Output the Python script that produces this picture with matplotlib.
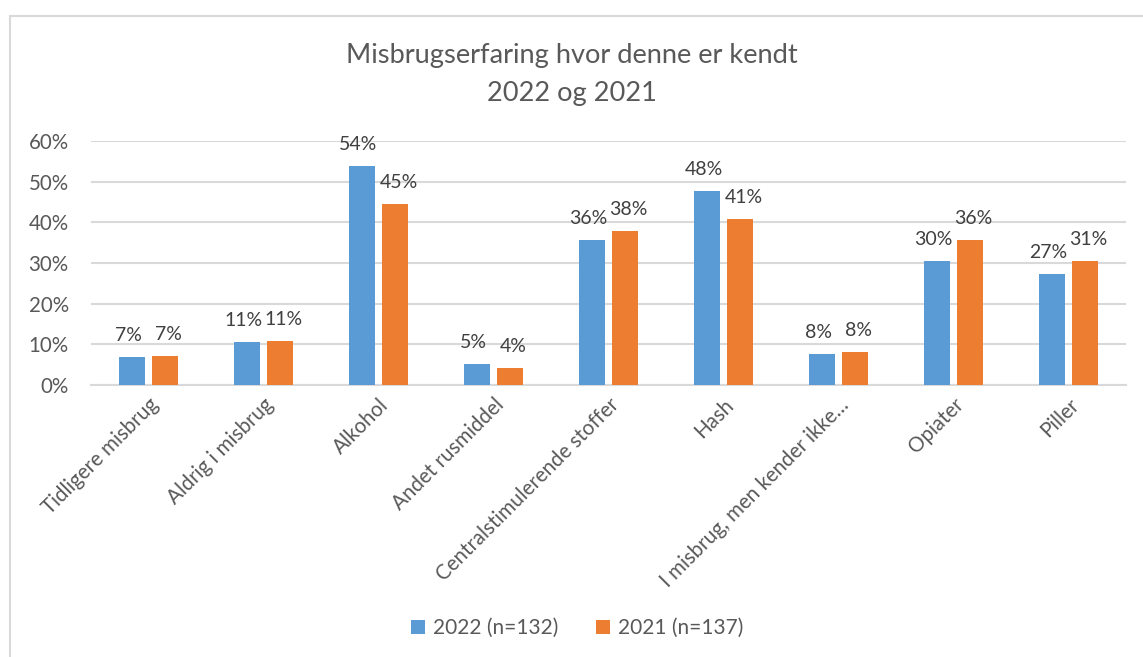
import numpy as np
import matplotlib.pyplot as plt
from matplotlib.patches import Rectangle
from matplotlib.ticker import PercentFormatter

plt.rcParams['font.family'] = ['Lato', 'DejaVu Sans']

categories = ["Tidligere misbrug", "Aldrig i misbrug", "Alkohol", "Andet rusmiddel",
              "Centralstimulerende stoffer", "Hash", "I misbrug, men kender ikke…",
              "Opiater", "Piller"]
vals_2022 = [0.069, 0.106, 0.538, 0.052, 0.357, 0.478, 0.076, 0.305, 0.274]
vals_2021 = [0.071, 0.109, 0.446, 0.043, 0.379, 0.408, 0.081, 0.357, 0.306]
labels_2022 = ["7%", "11%", "54%", "5%", "36%", "48%", "8%", "30%", "27%"]
labels_2021 = ["7%", "11%", "45%", "4%", "38%", "41%", "8%", "36%", "31%"]

blue = "#5b9bd5"
orange = "#ed7d31"
grid_c = "#d9d9d9"
txt = "#595959"

fig = plt.figure(figsize=(11.43, 6.57), dpi=100)
ax = fig.add_axes([91 / 1143, 1 - 385 / 657, 1035 / 1143, 244 / 657])

# chart border
fig.patches.append(Rectangle((10 / 1143, -0.1), 1.2, 1 - 16 / 657 + 0.1,
                             transform=fig.transFigure, fill=False,
                             edgecolor=grid_c, lw=1.5))

x = np.arange(len(categories))
w = 0.226
off = 0.1435
b1 = ax.bar(x - off, vals_2022, w, color=blue, label="2022 (n=132)", zorder=3)
b2 = ax.bar(x + off, vals_2021, w, color=orange, label="2021 (n=137)", zorder=3)

# small horizontal nudge so neighbouring labels don't collide
for bars, labs, dx in ((b1, labels_2022, -2.5), (b2, labels_2021, 2.5)):
    for r, lab in zip(bars, labs):
        ax.annotate(lab, (r.get_x() + r.get_width() / 2, r.get_height() + 0.032),
                    xytext=(dx, 0), textcoords="offset points",
                    ha="center", va="bottom", fontsize=14, color="#404040")

ax.set_xlim(-0.5, len(categories) - 0.5)
ax.set_ylim(0, 0.6)
ax.set_yticks(np.arange(0, 0.61, 0.1))
ax.yaxis.set_major_formatter(PercentFormatter(1.0, decimals=0))
ax.grid(axis="y", color=grid_c, lw=1.5, zorder=0)
ax.set_axisbelow(True)
for s in ("top", "right", "left"):
    ax.spines[s].set_visible(False)
ax.spines["bottom"].set_color(grid_c)
ax.spines["bottom"].set_linewidth(1.5)
ax.tick_params(axis="both", length=0, labelsize=14.8, colors=txt)
ax.tick_params(axis="y", pad=16)
ax.set_xticks(x)
ax.set_xticklabels(categories, rotation=45, ha="right", va="top",
                   rotation_mode="anchor")
ax.tick_params(axis="x", pad=7)

fig.text(0.5, 1 - 56 / 657, "Misbrugserfaring hvor denne er kendt",
         ha="center", va="center", fontsize=19.6, color=txt)
fig.text(0.5, 1 - 93 / 657, "2022 og 2021",
         ha="center", va="center", fontsize=19.6, color=txt)

fig.legend(loc="center", bbox_to_anchor=(0.505, 1 - 628 / 657), ncol=2,
           frameon=False, fontsize=15, labelcolor=txt, handlelength=0.65,
           handleheight=0.65, columnspacing=1.8, handletextpad=0.4)

fig.savefig("out.png", dpi=100)
